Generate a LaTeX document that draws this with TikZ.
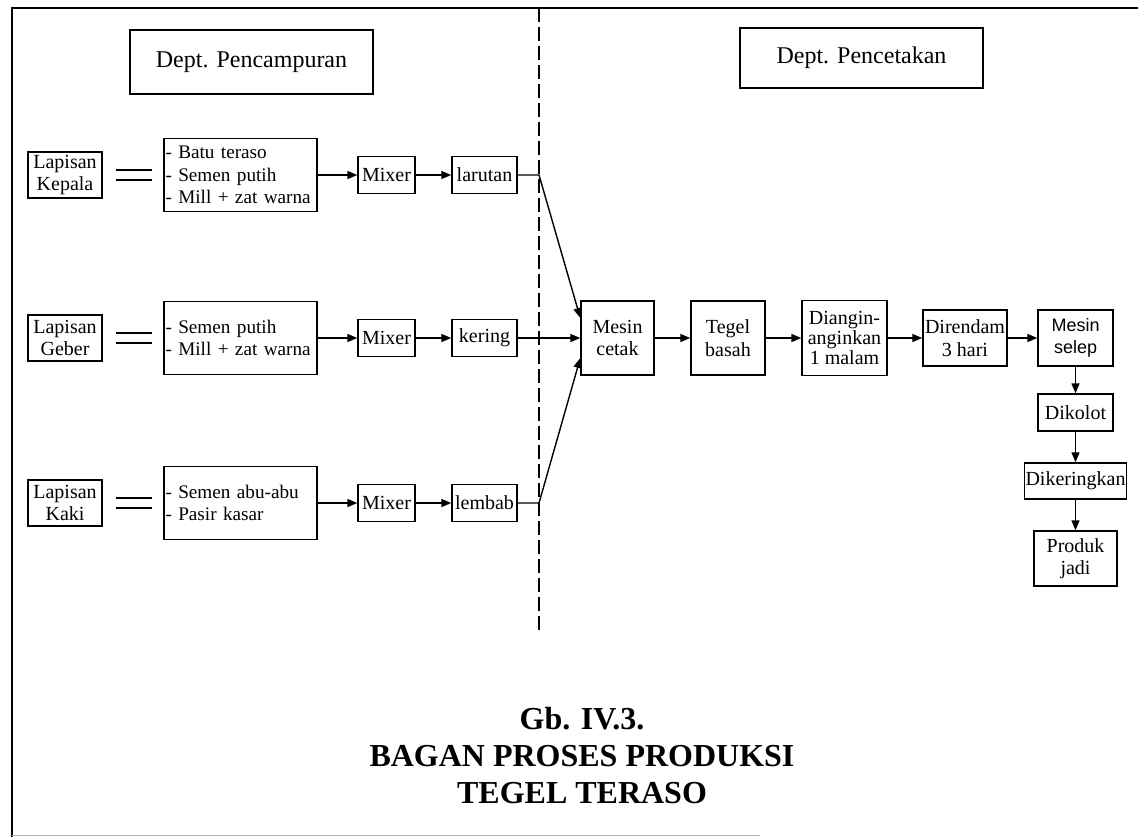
\documentclass[tikz,border=0pt]{standalone}
\usepackage{fontspec}
\setmainfont{Liberation Serif}
\newfontfamily\selepfont{Liberation Sans}
\usetikzlibrary{arrows.meta}

\begin{document}
\begin{tikzpicture}[x=0.5pt,y=-0.5pt,
  box/.style={draw,line width=0.7pt,inner sep=1pt,align=center,font=\fontsize{10}{11.3}\selectfont},
  dept/.style={box,font=\fontsize{12}{14}\selectfont,minimum width=121.5pt},
  lapis/.style={box,inner sep=0.5pt,minimum width=37pt,minimum height=23pt},
  list/.style={box,align=left,text width=75pt,inner xsep=0.75pt,minimum height=36.5pt,font=\fontsize{9.6}{11.3}\selectfont},
  mix/.style={box,minimum width=28.5pt,minimum height=18.5pt},
  result/.style={box,minimum width=32.5pt,minimum height=18.5pt},
  flow/.style={line width=0.7pt,-{Triangle[length=5pt,width=4pt]}},
  eq/.style={double,double distance=4.4pt,line width=0.6pt,shorten <=6.5pt,shorten >=5.5pt}]
  \useasboundingbox (0,0) rectangle (1138,837);

  % frame
  \draw[line width=1.2pt] (1138,8) -- (12,8) -- (12,837);
  \draw[line width=0.5pt,gray!60] (12,835) -- (760,835);
  \coordinate (dashtop) at (539,8);
  \coordinate (dashend) at (539,632);
  \draw[line width=0.6pt,dash pattern=on 7pt off 2.5pt] (dashtop) -- (dashend);

  % departments
  \node[dept,minimum height=32pt] (deptmix) at (251.5,62) {Dept. Pencampuran};
  \node[dept,minimum height=30pt] (deptcast) at (861.5,58) {Dept. Pencetakan};

  % kepala
  %boxes
  \node[lapis] (lapK) at (65,175) {Lapisan\\Kepala};
  \node[list] (matK) at (240.5,175) {- Batu teraso\\- Semen putih\\- Mill + zat warna};
  \node[mix] (mixK) at (386.5,175) {Mixer};
  \node[result] (resK) at (484.5,175) {larutan};
  %arrows
  \draw[eq] (lapK.east) -- (matK.west);
  \draw[flow] (matK) -- (mixK);
  \draw[flow] (mixK) -- (resK);

  % geber
  %boxes
  \node[lapis] (lapG) at (65,338) {Lapisan\\Geber};
  \node[list] (matG) at (240.5,338) {- Semen putih\\- Mill + zat warna};
  \node[mix] (mixG) at (386.5,338) {Mixer};
  \node[result] (resG) at (484.5,338) {kering};
  %arrows
  \draw[eq] (lapG.east) -- (matG.west);
  \draw[flow] (matG) -- (mixG);
  \draw[flow] (mixG) -- (resG);

  % kaki
  %boxes
  \node[lapis] (lapL) at (65,503) {Lapisan\\Kaki};
  \node[list] (matL) at (240.5,503) {- Semen abu-abu\\- Pasir kasar};
  \node[mix] (mixL) at (386.5,503) {Mixer};
  \node[result] (resL) at (484.5,503) {lembab};
  %arrows
  \draw[eq] (lapL.east) -- (matL.west);
  \draw[flow] (matL) -- (mixL);
  \draw[flow] (mixL) -- (resL);

  % cetak
  %boxes
  \node[box,minimum width=36.5pt,minimum height=37pt] (cetak) at (617.5,338) {Mesin\\cetak};
  \node[box,minimum width=37pt,minimum height=37pt] (tegel) at (728,338) {Tegel\\basah};
  \node[box,minimum width=42.5pt,minimum height=37.5pt,font=\fontsize{10}{10}\selectfont] (angin) at (844.5,338) {Diangin-\\anginkan\\1 malam};
  \node[box,minimum width=42pt,minimum height=28pt] (rendam) at (965,338) {Direndam\\3 hari};
  \node[box,minimum width=37.5pt,minimum height=28pt,font=\selepfont\fontsize{9}{11}\selectfont] (selep) at (1075.5,338) {Mesin\\selep};
  \node[box,minimum width=37.5pt,minimum height=18.5pt] (kolot) at (1075.5,412.5) {Dikolot};
  \node[box,inner sep=0.3pt,minimum width=51pt,minimum height=18pt] (keringkan) at (1075.5,481) {Dikeringkan};
  \node[box,minimum width=41.5pt,minimum height=27.5pt] (produk) at (1075.5,558.5) {Produk\\jadi};
  %arrows
  \draw[flow] (resK.east) -- (resK.east -| dashtop) -- ([yshift=10pt]cetak.west);
  \draw[flow] (resG) -- (cetak);
  \draw[flow] (resL.east) -- (resL.east -| dashtop) -- ([yshift=-10pt]cetak.west);
  \draw[flow] (cetak) -- (tegel);
  \draw[flow] (tegel) -- (angin);
  \draw[flow] (angin) -- (rendam);
  \draw[flow] (rendam) -- (selep);
  \draw[flow] (selep) -- (kolot);
  \draw[flow] (kolot) -- (keringkan);
  \draw[flow] (keringkan) -- (produk);

  % title
  \node[font=\bfseries\fontsize{16}{18.5}\selectfont,align=center] (title) at (582,756) {Gb. IV.3.\\BAGAN PROSES PRODUKSI\\TEGEL TERASO};
\end{tikzpicture}
\end{document}
